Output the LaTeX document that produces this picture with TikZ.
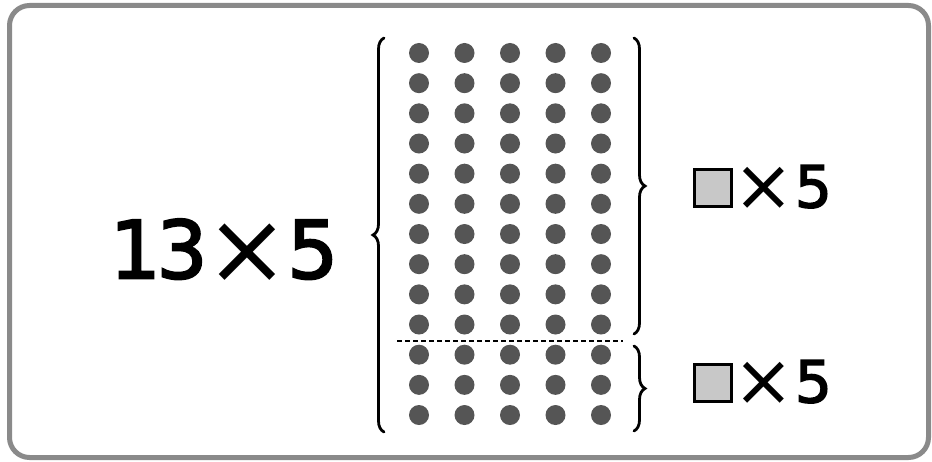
\documentclass[tikz,border=0pt]{standalone}
\usepackage{fontspec}
\setmainfont{DejaVu Sans}
\newfontfamily\semib[FakeBold=2.6]{DejaVu Sans}
\usetikzlibrary{decorations.pathreplacing}
\definecolor{framegray}{HTML}{8A8A8A}
\definecolor{dotgray}{HTML}{555555}
\definecolor{boxgray}{HTML}{C8C8C8}
\newcommand{\bigx}{{\rmfamily\raisebox{-0.06em}{\scalebox{1.25}{×}}}}
\begin{document}
\begin{tikzpicture}[x=1pt,y=-1pt,
  dot/.style={circle,fill=dotgray,minimum size=20pt,inner sep=0pt},
  bracestyle/.style={decorate,decoration={brace,amplitude=11pt},line width=2.8pt,line cap=round},
  sep/.style={line width=2pt,dash pattern=on 5pt off 3pt},
  bigtext/.style={font=\fontsize{80}{80}\selectfont\semib,inner sep=0pt},
  labtext/.style={font=\fontsize{58}{58}\selectfont\semib,inner sep=0pt,anchor=west},
  sq/.style={draw=black,fill=boxgray,line width=3pt,minimum size=37pt,inner sep=0pt}]
\useasboundingbox (0,0) rectangle (932,462);
\draw[framegray,line width=5pt,rounded corners=20pt] (9.5,5.5) rectangle (928.5,457.5);
\node[bigtext] (big) at (224,251) {1\kern-4pt3\kern-2pt\bigx\kern-2pt5};
\foreach \r in {0,...,12}
  \foreach \c in {0,...,4}
    \node[dot] (d\r-\c) at ({419+45.5*\c},{53+30.17*\r}) {};
\coordinate (dl) at (397,341);
\coordinate (dr) at (623,341);
\draw[sep] (dl) -- (dr);
\coordinate (lb1) at (384,432);
\coordinate (lb2) at (384,38);
\draw[bracestyle] (lb1) -- (lb2);
\coordinate (ub1) at (634,38);
\coordinate (ub2) at (634,334);
\draw[bracestyle] (ub1) -- (ub2);
\coordinate (wb1) at (634,346);
\coordinate (wb2) at (634,431);
\draw[bracestyle] (wb1) -- (wb2);
\node[sq] (s1) at (713,188) {};
\node[labtext] (t1) at (733,188) {\bigx\kern1pt5};
\node[sq] (s2) at (713,383) {};
\node[labtext] (t2) at (733,383) {\bigx\kern1pt5};
\end{tikzpicture}
\end{document}
